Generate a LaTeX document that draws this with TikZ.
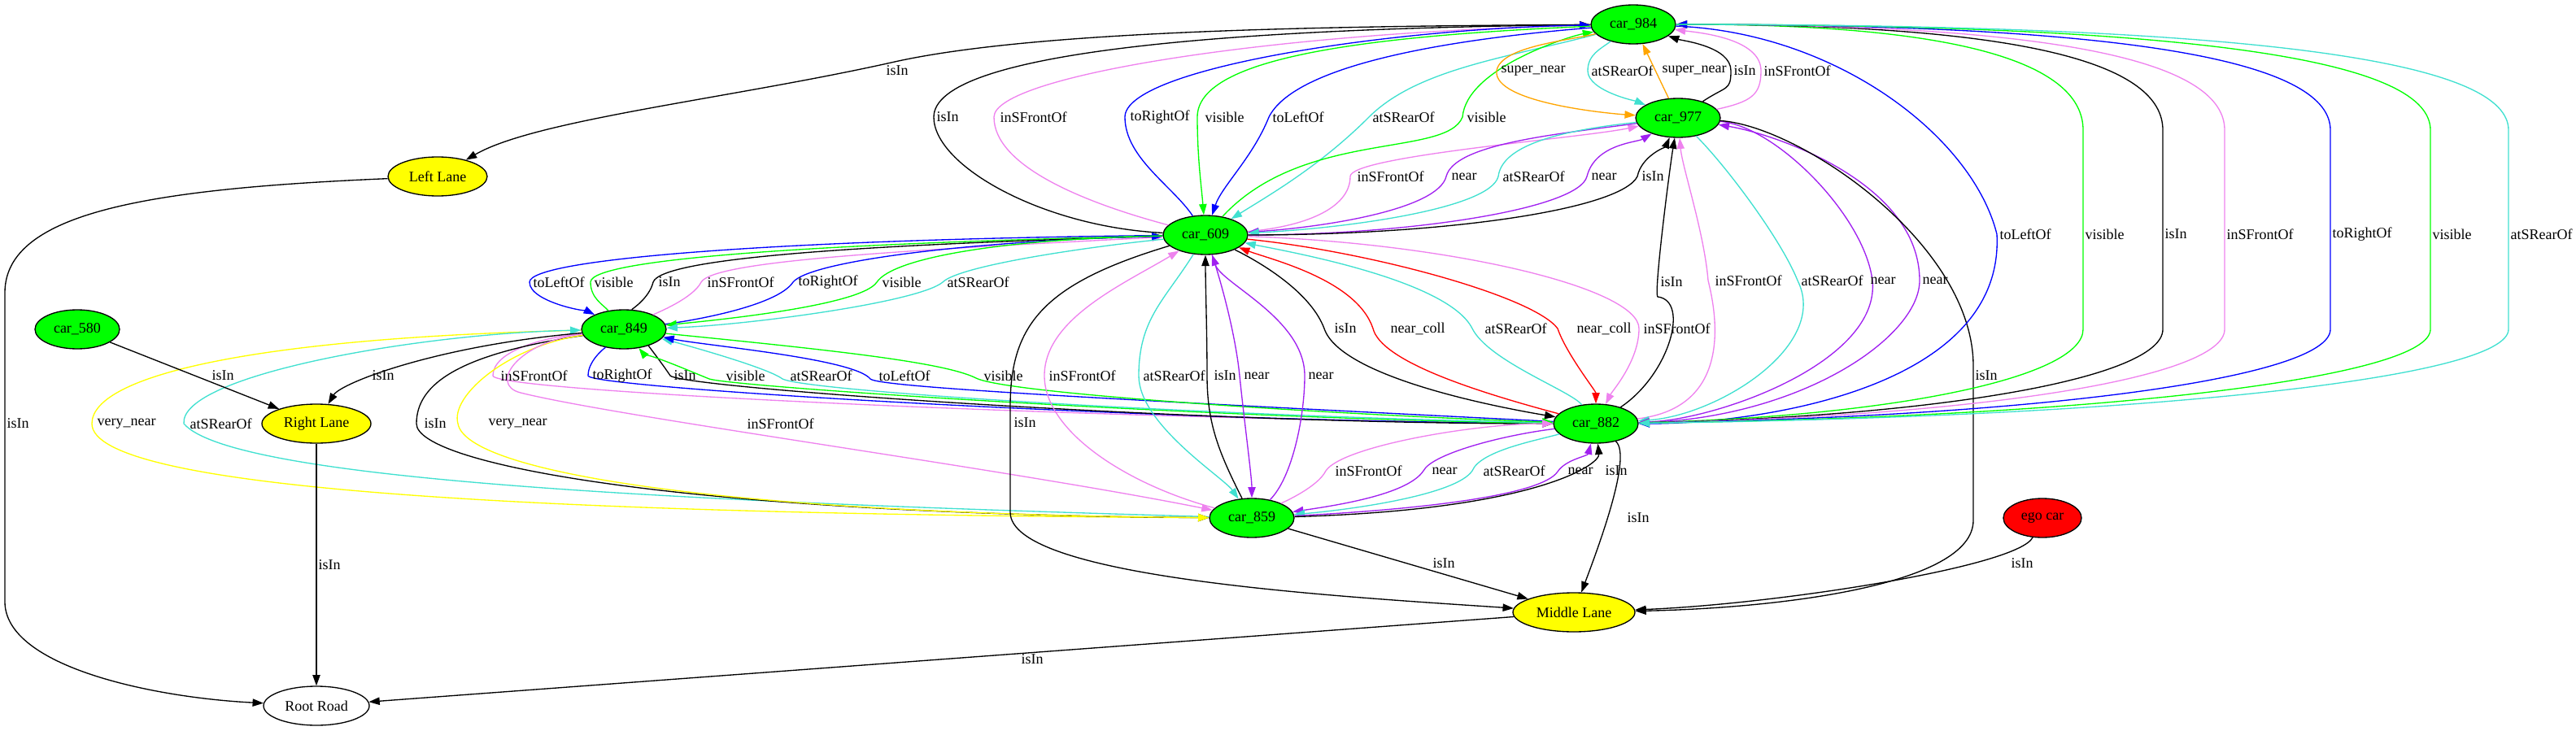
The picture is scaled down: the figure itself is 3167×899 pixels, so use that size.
\documentclass[tikz,border=0pt]{standalone}
\usepackage{fontspec}
\setmainfont{Liberation Serif}
\usetikzlibrary{arrows.meta,shapes.geometric}
\definecolor{gvgreen}{RGB}{0,255,0}
\definecolor{gvblue}{RGB}{0,0,255}
\definecolor{gvviolet}{RGB}{238,130,238}
\definecolor{gvpurple}{RGB}{160,32,240}
\definecolor{gvturq}{RGB}{64,224,208}
\definecolor{gvorange}{RGB}{255,165,0}
\definecolor{gvred}{RGB}{255,0,0}
\definecolor{gvyellow}{RGB}{255,255,0}
\begin{document}
\begin{tikzpicture}[
x=0.75pt, y=-0.75pt, line width=1pt,
>={Triangle[length=10pt,width=7pt]},
font=\fontsize{13.5}{16}\selectfont,
carnode/.style={ellipse, draw=black, fill=gvgreen, inner sep=0pt, minimum width=78pt, minimum height=36pt},
lanenode/.style={ellipse, draw=black, fill=gvyellow, inner sep=0pt, minimum height=36pt},
egonode/.style={ellipse, draw=black, fill=gvred, inner sep=0pt, minimum width=72pt, minimum height=36pt},
roadnode/.style={ellipse, draw=black, fill=white, inner sep=0pt, minimum width=97.5pt, minimum height=36pt},
lbl/.style={anchor=west, inner sep=0pt, text=black},
]
\useasboundingbox (0,0) rectangle (3167,899);
%Nodes
\node[carnode]  (car984)     at (2008,30)  {car\_984};
\node[carnode]  (car977)     at (2063,145) {car\_977};
\node[carnode]  (car609)     at (1482,289) {car\_609};
\node[carnode]  (car849)     at (767,405)  {car\_849};
\node[carnode]  (car580)     at (95,405)   {car\_580};
\node[carnode]  (car882)     at (1962,521) {car\_882};
\node[carnode]  (car859)     at (1539,637) {car\_859};
\node[egonode]  (ego)        at (2511,637) {ego car};
\node[lanenode, minimum width=91.5pt]  (leftlane)   at (538,217)  {Left Lane};
\node[lanenode, minimum width=100.5pt] (rightlane)  at (389,521)  {Right Lane};
\node[lanenode, minimum width=112.5pt] (middlelane) at (1935,753) {Middle Lane};
\node[roadnode] (rootroad)   at (389,868)  {Root Road};

%Lines
\draw[->] (car984) .. controls +(-350,2) and +(180,-40) .. (1100,76) .. controls +(-200,45) and +(120,-70) .. (leftlane) node[lbl, at={(1089,87)}] {isIn};
\draw[->] (car609) .. controls +(-200,-10) and +(0,60) .. (1148,144) .. controls +(0,-80) and +(-500,5) .. (car984) node[lbl, at={(1151,144)}] {isIn};
\draw[->, gvviolet] (car609) .. controls +(-150,-40) and +(0,60) .. (1222,144) .. controls +(0,-50) and +(-450,10) .. (car984) node[lbl, at={(1229,144)}] {inSFrontOf};
\draw[->, gvblue] (car609) .. controls +(-40,-60) and +(0,50) .. (1383,144) .. controls +(0,-60) and +(-300,5) .. (car984) node[lbl, at={(1389,144)}] {toRightOf};
\draw[->, gvgreen] (car984) .. controls +(-350,15) and +(0,-70) .. (1472,144) .. controls +(0,50) and +(-5,-60) .. (car609) node[lbl, at={(1481,144)}] {visible};
\draw[->, gvblue] (car984) .. controls +(-250,20) and +(30,-60) .. (1560,144) .. controls +(-20,50) and +(20,-60) .. (car609) node[lbl, at={(1564,144)}] {toLeftOf};
\draw[->, gvturq] (car984) .. controls +(-150,40) and +(60,-60) .. (1683,144) .. controls +(-60,60) and +(80,-50) .. (car609) node[lbl, at={(1687,144)}] {atSRearOf};
\draw[->, gvgreen] (car609) .. controls +(120,-130) and +(-20,50) .. (1798,144) .. controls +(5,-60) and +(-80,15) .. (car984) node[lbl, at={(1803,144)}] {visible};
\draw[->, gvorange] (car984) .. controls +(-80,20) and +(5,-30) .. (1840,87) .. controls +(-5,40) and +(-80,-5) .. (car977) node[lbl, at={(1845,87)}] {super\_near};
\draw[->, gvturq] (car984) .. controls +(-40,30) and +(0,-20) .. (1952,87) .. controls +(0,25) and +(-50,-20) .. (car977) node[lbl, at={(1956,87)}] {atSRearOf};
\draw[->, gvorange] (car977) -- (car984) node[lbl, at={(2043,87)}] {super\_near};
\draw[->] (car977) .. controls +(60,-40) and +(0,25) .. (2128,87) .. controls +(0,-30) and +(60,20) .. (car984) node[lbl, at={(2131,87)}] {isIn};
\draw[->, gvviolet] (car977) .. controls +(90,-20) and +(0,30) .. (2165,87) .. controls +(0,-40) and +(80,10) .. (car984) node[lbl, at={(2168,87)}] {inSFrontOf};
\draw[->, gvviolet] (car609) .. controls +(120,-10) and +(0,40) .. (1660,217) .. controls +(0,-25) and +(-120,25) .. (car977) node[lbl, at={(1668,217)}] {inSFrontOf};
\draw[->, gvpurple] (car977) .. controls +(-150,20) and +(10,-40) .. (1778,217) .. controls +(-10,40) and +(150,-10) .. (car609) node[lbl, at={(1784,217)}] {near};
\draw[->, gvturq] (car977) .. controls +(-140,15) and +(5,-40) .. (1842,217) .. controls +(-10,40) and +(170,-8) .. (car609) node[lbl, at={(1847,217)}] {atSRearOf};
\draw[->, gvpurple] (car609) .. controls +(250,0) and +(-10,40) .. (1951,217) .. controls +(10,-40) and +(-50,30) .. (car977) node[lbl, at={(1956,217)}] {near};
\draw[->] (car609) .. controls +(300,0) and +(-20,40) .. (2013,217) .. controls +(5,-25) and +(-15,35) .. (car977) node[lbl, at={(2018,217)}] {isIn};
\draw[->, gvblue] (car609) .. controls +(-500,5) and +(0,-30) .. (651,347) .. controls +(0,25) and +(-40,-20) .. (car849) node[lbl, at={(655,347)}] {toLeftOf};
\draw[->, gvgreen] (car849) .. controls +(-25,-30) and +(0,20) .. (726,347) .. controls +(0,-30) and +(-450,10) .. (car609) node[lbl, at={(730,347)}] {visible};
\draw[->] (car849) .. controls +(10,-25) and +(-5,20) .. (803,347) .. controls +(10,-30) and +(-420,12) .. (car609) node[lbl, at={(809,347)}] {isIn};
\draw[->, gvviolet] (car849) .. controls +(40,-20) and +(-10,20) .. (862,347) .. controls +(15,-25) and +(-400,20) .. (car609) node[lbl, at={(869,347)}] {inSFrontOf};
\draw[->, gvblue] (car849) .. controls +(80,-10) and +(-20,30) .. (975,347) .. controls +(20,-25) and +(-300,8) .. (car609) node[lbl, at={(981,347)}] {toRightOf};
\draw[->, gvgreen] (car609) .. controls +(-250,5) and +(20,-30) .. (1078,347) .. controls +(-20,30) and +(100,-10) .. (car849) node[lbl, at={(1084,347)}] {visible};
\draw[->, gvturq] (car609) .. controls +(-150,15) and +(20,-20) .. (1159,347) .. controls +(-30,25) and +(150,-5) .. (car849) node[lbl, at={(1164,347)}] {atSRearOf};
\draw[->, gvviolet] (car849) .. controls +(-100,10) and +(0,-30) .. (606,462) .. controls +(0,20) and +(-600,-5) .. (car882) node[lbl, at={(615,462)}] {inSFrontOf};
\draw[->, gvblue] (car849) .. controls +(-20,20) and +(0,-20) .. (723,462) .. controls +(0,15) and +(-550,-3) .. (car882) node[lbl, at={(728,462)}] {toRightOf};
\draw[->] (car849) .. controls +(30,20) and +(-10,-15) .. (824,462) .. controls +(15,15) and +(-500,0) .. (car882) node[lbl, at={(828,462)}] {isIn};
\draw[->, gvgreen] (car882) .. controls +(-450,-5) and +(30,10) .. (872,466) .. controls +(-20,-8) and +(20,25) .. (car849) node[lbl, at={(892,462)}] {visible};
\draw[->, gvturq] (car882) .. controls +(-500,-10) and +(30,15) .. (962,466) .. controls +(-20,-15) and +(60,15) .. (car849) node[lbl, at={(971,462)}] {atSRearOf};
\draw[->, gvblue] (car882) .. controls +(-600,-30) and +(10,10) .. (1070,466) .. controls +(-20,-25) and +(100,20) .. (car849) node[lbl, at={(1080,462)}] {toLeftOf};
\draw[->, gvgreen] (car849) .. controls +(250,25) and +(-40,-20) .. (1200,465) .. controls +(40,20) and +(-300,-10) .. (car882) node[lbl, at={(1209,462)}] {visible};
\draw[->, gvyellow] (car849) .. controls +(-450,10) and +(0,-60) .. (113,521) .. controls +(0,80) and +(-900,-5) .. (car859) node[lbl, at={(119,521)}] {very\_near};
\draw[->, gvturq] (car859) .. controls +(-700,-20) and +(60,70) .. (226,521) .. controls +(-5,-60) and +(-250,5) .. (car849) node[lbl, at={(233,521)}] {atSRearOf};
\draw[->] (car849) .. controls +(-200,30) and +(0,-50) .. (512,521) .. controls +(0,50) and +(-700,-5) .. (car859) node[lbl, at={(521,521)}] {isIn};
\draw[->, gvyellow] (car849) .. controls +(-140,20) and +(-10,-35) .. (563,521) .. controls +(10,60) and +(-650,-5) .. (car859) node[lbl, at={(600,521)}] {very\_near};
\draw[->, gvviolet] (car849) .. controls +(-130,15) and +(-40,-10) .. (640,483) .. controls +(120,30) and +(-300,-60) .. (car859) node[lbl, at={(918,521)}] {inSFrontOf};
\draw[->] (car609) .. controls +(-200,60) and +(0,-100) .. (1242,500) -- (1242,630) .. controls +(0,80) and +(-300,-20) .. (middlelane) node[lbl, at={(1246,520)}] {isIn};
\draw[->, gvviolet] (car859) .. controls +(-150,-40) and +(0,70) .. (1284,462) .. controls +(0,-70) and +(-100,60) .. (car609) node[lbl, at={(1289,462)}] {inSFrontOf};
\draw[->, gvturq] (car609) .. controls +(-50,80) and +(0,-70) .. (1400,462) .. controls +(0,60) and +(-35,-50) .. (car859) node[lbl, at={(1405,462)}] {atSRearOf};
\draw[->] (car859) .. controls +(-40,-80) and +(0,60) .. (1484,462) .. controls +(0,-50) and +(0,60) .. (car609) node[lbl, at={(1492,462)}] {isIn};
\draw[->, gvpurple] (car609) .. controls +(20,60) and +(-5,-50) .. (1524,462) .. controls +(5,50) and +(0,-50) .. (car859) node[lbl, at={(1529,462)}] {near};
\draw[->, gvpurple] (car859) .. controls +(50,-50) and +(0,50) .. (1604,462) .. controls +(0,-70) and +(20,60) .. (car609) node[lbl, at={(1608,462)}] {near};
\draw[->] (car609) .. controls +(80,40) and +(-15,-40) .. (1628,404) .. controls +(20,60) and +(-120,-20) .. (car882) node[lbl, at={(1640,404)}] {isIn};
\draw[->, gvred] (car882) .. controls +(-150,-40) and +(10,40) .. (1688,404) .. controls +(-20,-60) and +(80,30) .. (car609) node[lbl, at={(1709,404)}] {near\_coll};
\draw[->, gvturq] (car882) .. controls +(-30,-40) and +(20,40) .. (1810,404) .. controls +(-30,-60) and +(100,20) .. (car609) node[lbl, at={(1825,404)}] {atSRearOf};
\draw[->, gvred] (car609) .. controls +(200,20) and +(-30,-40) .. (1915,404) .. controls +(10,30) and +(0,-40) .. (car882) node[lbl, at={(1938,404)}] {near\_coll};
\draw[->, gvviolet] (car609) .. controls +(300,10) and +(0,-50) .. (2015,404) .. controls +(0,40) and +(20,-40) .. (car882) node[lbl, at={(2020,404)}] {inSFrontOf};
\draw[->] (car882) .. controls +(90,-60) and +(40,5) .. (2038,365) .. controls +(-5,-5) and +(-10,60) .. (car977) node[lbl, at={(2041,347)}] {isIn};
\draw[->, gvviolet] (car882) .. controls +(170,-20) and +(10,40) .. (2100,345) .. controls +(-5,-60) and +(5,60) .. (car977) node[lbl, at={(2108,345)}] {inSFrontOf};
\draw[->, gvturq] (car977) .. controls +(60,60) and +(-20,-50) .. (2210,345) .. controls +(40,80) and +(150,-10) .. (car882) node[lbl, at={(2214,345)}] {atSRearOf};
\draw[->, gvpurple] (car977) .. controls +(120,10) and +(-10,-80) .. (2302,345) .. controls +(10,100) and +(150,-5) .. (car882) node[lbl, at={(2299,345)}] {near};
\draw[->, gvpurple] (car882) .. controls +(250,-5) and +(0,70) .. (2360,345) .. controls +(0,-120) and +(120,20) .. (car977) node[lbl, at={(2363,345)}] {near};
\draw[->] (car977) .. controls +(150,10) and +(0,-150) .. (2426,450) -- (2426,640) .. controls +(0,80) and +(250,-5) .. (middlelane) node[lbl, at={(2428,462)}] {isIn};
\draw[->, gvblue] (car984) .. controls +(250,10) and +(-30,-120) .. (2455,288) .. controls +(10,190) and +(200,0) .. (car882) node[lbl, at={(2458,288)}] {toLeftOf};
\draw[<-, gvgreen] (car984) .. controls +(410,0) and +(0,-80) .. (2561,160) -- (2561,405) .. controls +(0,60) and +(360,-8) .. (car882) node[lbl, at={(2563,288)}] {visible};
\draw[<-] (car984) .. controls +(490,0) and +(0,-80) .. (2659,160) -- (2659,405) .. controls +(0,60) and +(420,-8) .. (car882) node[lbl, at={(2661,288)}] {isIn};
\draw[<-, gvviolet] (car984) .. controls +(545,0) and +(0,-80) .. (2735,160) -- (2735,405) .. controls +(0,60) and +(465,-8) .. (car882) node[lbl, at={(2737,288)}] {inSFrontOf};
\draw[<-, gvblue] (car984) .. controls +(640,0) and +(0,-80) .. (2865,160) -- (2865,405) .. controls +(0,60) and +(540,-8) .. (car882) node[lbl, at={(2867,288)}] {toRightOf};
\draw[->, gvgreen] (car984) .. controls +(735,0) and +(0,-80) .. (2988,160) -- (2988,405) .. controls +(0,60) and +(615,-8) .. (car882) node[lbl, at={(2990,288)}] {visible};
\draw[->, gvturq] (car984) .. controls +(805,0) and +(0,-80) .. (3084,160) -- (3084,405) .. controls +(0,60) and +(673,-8) .. (car882) node[lbl, at={(3086,288)}] {atSRearOf};
\draw[->, gvviolet] (car859) .. controls +(40,-20) and +(-10,20) .. (1630,579) .. controls +(20,-30) and +(-150,0) .. (car882) node[lbl, at={(1641,579)}] {inSFrontOf};
\draw[->, gvpurple] (car882) .. controls +(-120,15) and +(10,-20) .. (1750,579) .. controls +(-20,30) and +(100,-15) .. (car859) node[lbl, at={(1760,579)}] {near};
\draw[->, gvturq] (car882) .. controls +(-70,20) and +(10,-25) .. (1810,579) .. controls +(-20,30) and +(120,-10) .. (car859) node[lbl, at={(1823,579)}] {atSRearOf};
\draw[->, gvpurple] (car859) .. controls +(200,-10) and +(-20,30) .. (1915,580) .. controls +(10,-15) and +(-10,40) .. (car882) node[lbl, at={(1927,579)}] {near};
\draw[->] (car859) .. controls +(350,-10) and +(5,50) .. (car882) node[lbl, at={(1973,579)}] {isIn};
\draw[->] (car882) .. controls +(45,40) and +(30,-80) .. (middlelane) node[lbl, at={(2000,637)}] {isIn};
\draw[->] (car859) -- (middlelane) node[lbl, at={(1761,693)}] {isIn};
\draw[->] (ego) .. controls +(-30,60) and +(250,-10) .. (middlelane) node[lbl, at={(2472,693)}] {isIn};
\draw[->] (middlelane) -- (rootroad) node[lbl, at={(1255,811)}] {isIn};
\draw[->] (rightlane) -- (rootroad) node[lbl, at={(391,695)}] {isIn};
\draw[->] (car580) -- (rightlane) node[lbl, at={(260,462)}] {isIn};
\draw[->] (car849) .. controls +(-230,20) and +(30,-50) .. (rightlane) node[lbl, at={(457,462)}] {isIn};
\draw[->] (leftlane) .. controls +(-350,15) and +(0,-100) .. (6,360) -- (6,740) .. controls +(0,80) and +(-200,-10) .. (rootroad) node[lbl, at={(8,521)}] {isIn};
\end{tikzpicture}
\end{document}
